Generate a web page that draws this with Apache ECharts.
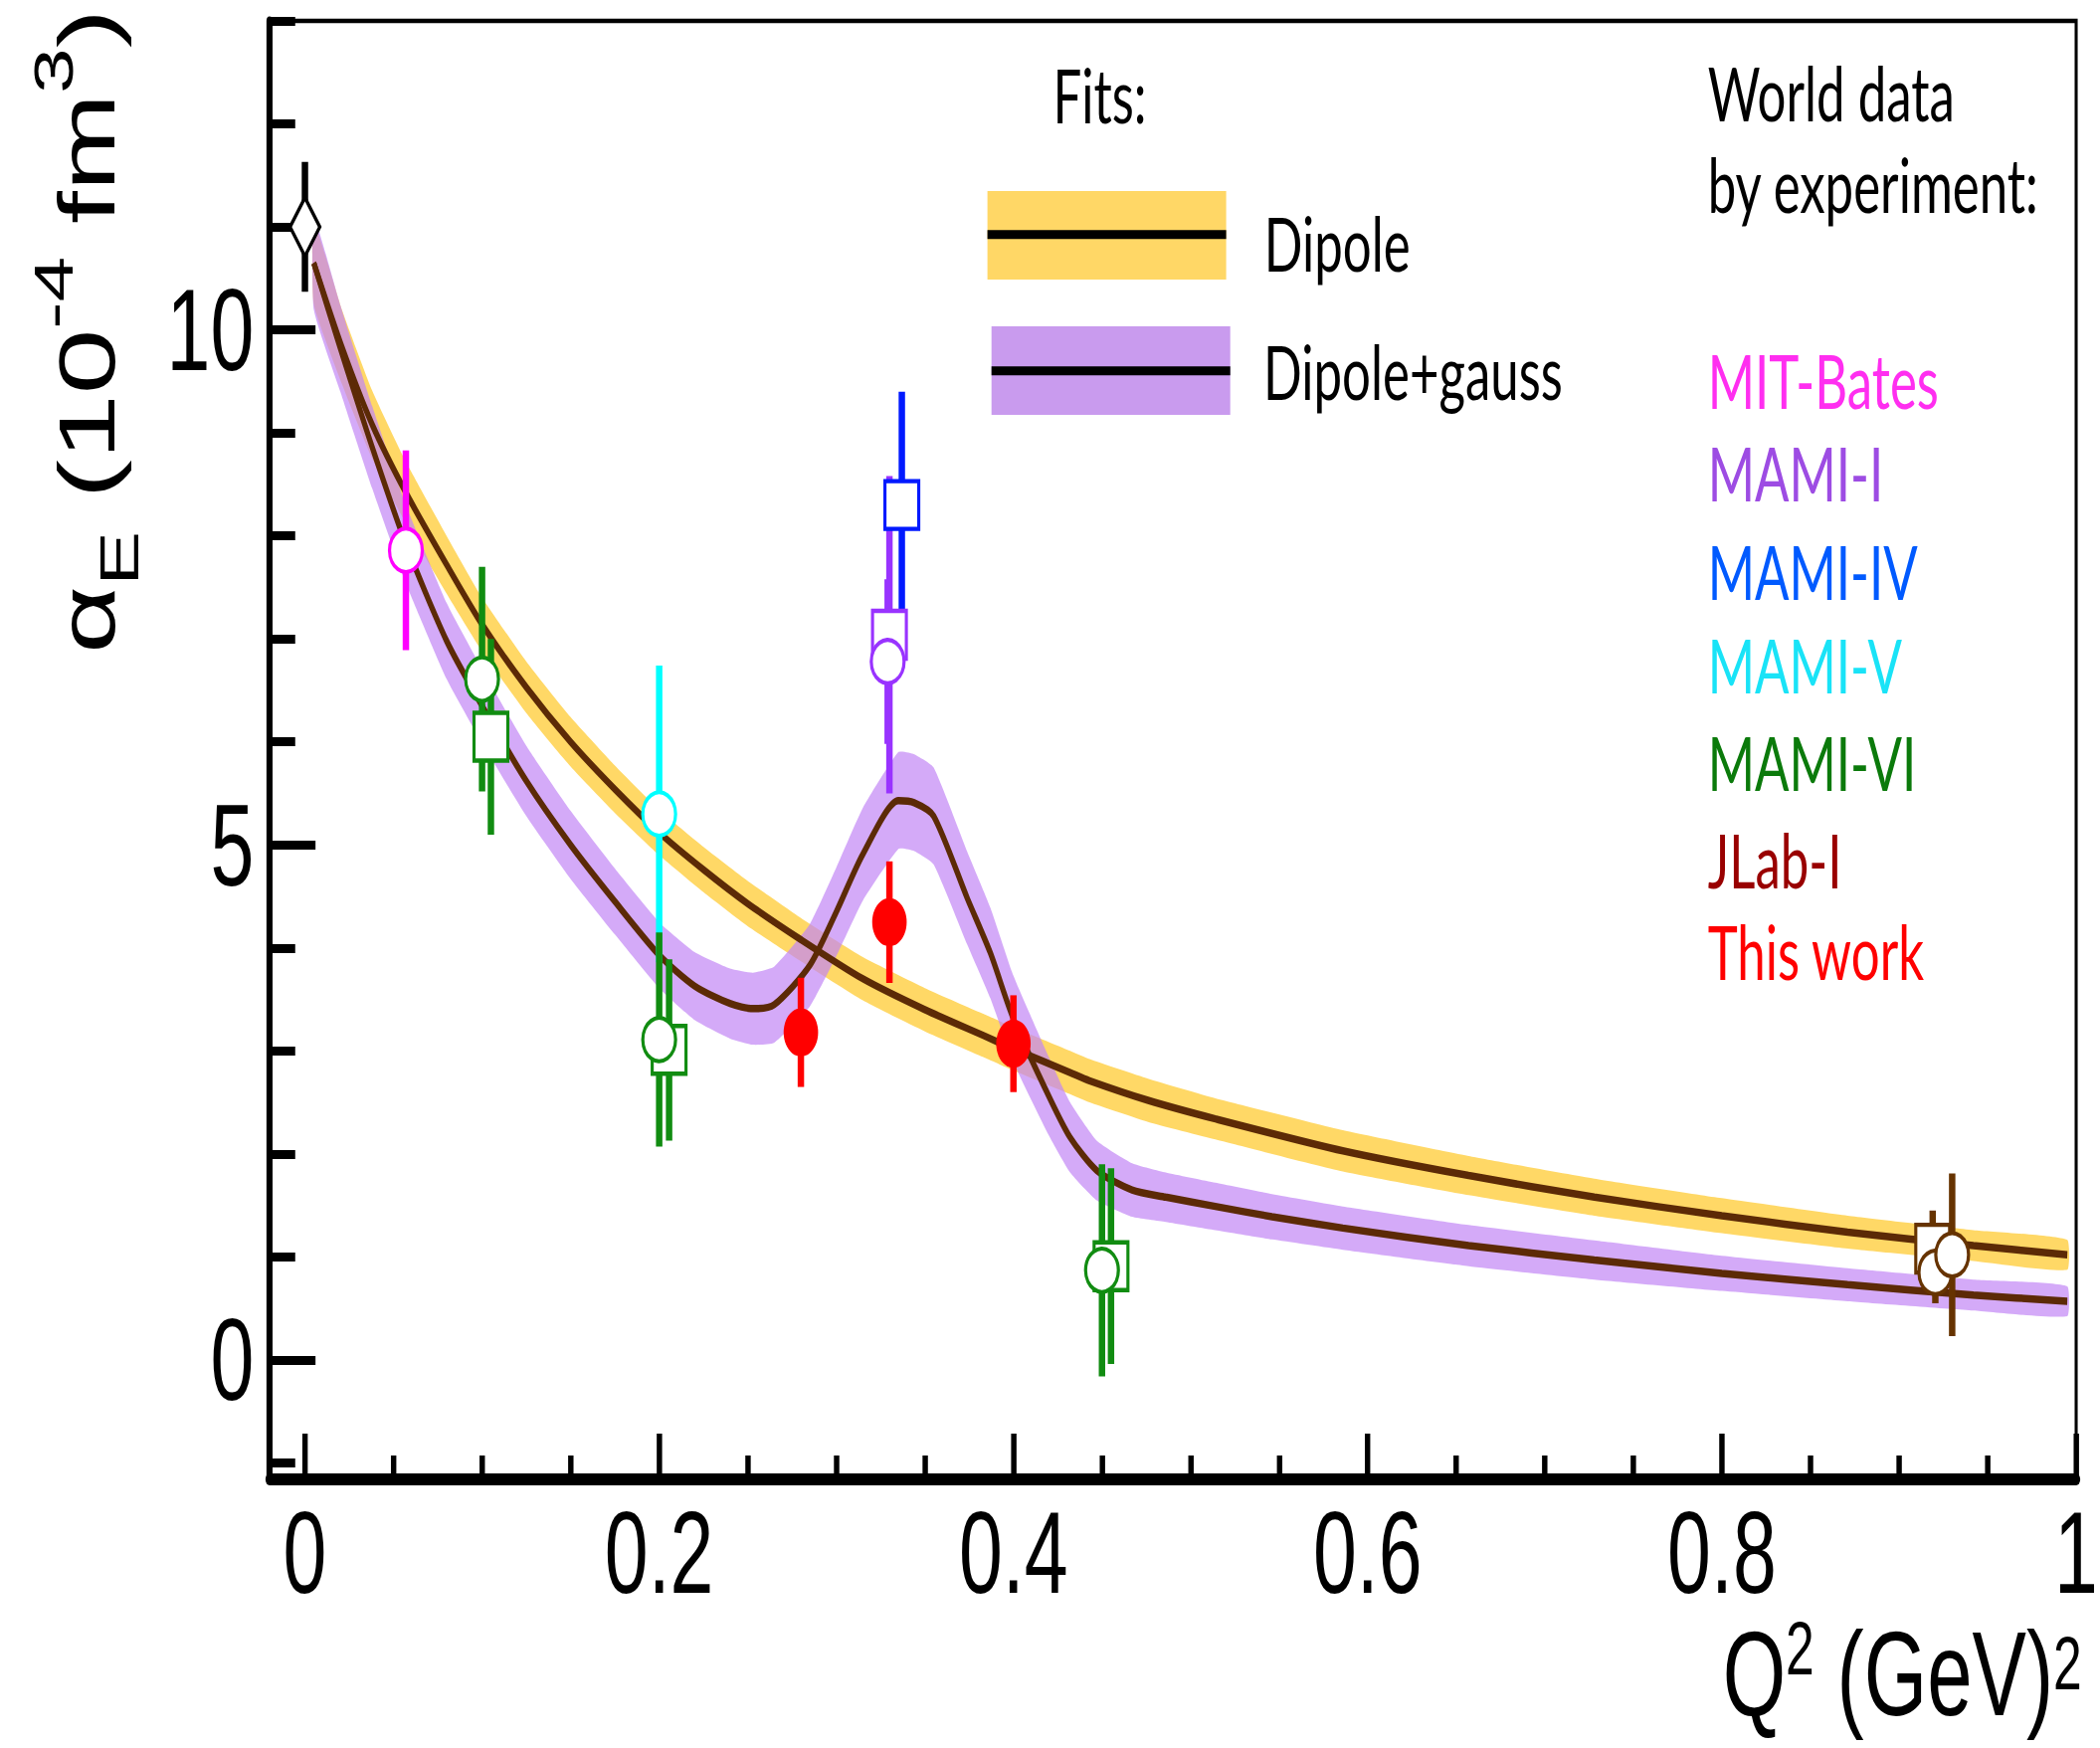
<!DOCTYPE html>
<html>
<head>
<meta charset="utf-8">
<script src="https://cdn.jsdelivr.net/npm/echarts@6/dist/echarts.min.js"></script>
<style>
html,body{margin:0;padding:0;overflow:hidden;width:2111px;height:1757px;background:#fff;}
#chart{width:3105px;height:1757px;transform:scaleX(0.67987);transform-origin:0 0;}
</style>
</head>
<body>
<div id="chart"></div>
<script>
// ---------------- data ----------------
const xMajorTicks = [0, 0.2, 0.4, 0.6, 0.8, 1.0];
const xTickLabels = ['0', '0.2', '0.4', '0.6', '0.8', '1'];
const xMinorTicks = [0.05, 0.1, 0.15, 0.25, 0.3, 0.35, 0.45, 0.5, 0.55, 0.65, 0.7, 0.75, 0.85, 0.9, 0.95];
const yMajorTicks = [0, 5, 10];
const yTickLabels = ['0', '5', '10'];
const yMinorTicks = [-1, 1, 2, 3, 4, 6, 7, 8, 9, 11, 12, 13];

// Dipole fit (centre line and band half-width)
const dipoleQ   = [0.005,0.021,0.038,0.057,0.08,0.1,0.125,0.15,0.175,0.2,0.225,0.25,0.28,0.315,0.35,0.383,0.40,0.432,0.443,0.476,0.514,0.586,0.657,0.728,0.80,0.871,0.942,0.995];
const dipoleA   = [10.65,9.83,9.08,8.42,7.72,7.14,6.53,6.00,5.54,5.12,4.76,4.43,4.08,3.70,3.40,3.15,3.02,2.79,2.71,2.52,2.34,2.03,1.79,1.58,1.40,1.24,1.11,1.02];
const dipoleErr = [0.40,0.36,0.33,0.30,0.28,0.26,0.25,0.24,0.23,0.22,0.22,0.22,0.21,0.21,0.21,0.21,0.21,0.21,0.21,0.21,0.20,0.20,0.19,0.18,0.17,0.16,0.15,0.145];

// Dipole+gauss fit
const gaussQ   = [0.005,0.02,0.038,0.057,0.08,0.1,0.125,0.15,0.175,0.2,0.22,0.24,0.253,0.265,0.285,0.30,0.315,0.335,0.344,0.355,0.374,0.387,0.40,0.42,0.432,0.447,0.467,0.486,0.514,0.546,0.586,0.657,0.728,0.80,0.871,0.942,0.995];
const gaussA   = [10.65,9.82,8.86,7.92,6.98,6.35,5.62,5.00,4.45,3.93,3.63,3.46,3.41,3.45,3.83,4.35,4.91,5.43,5.41,5.28,4.48,3.95,3.31,2.56,2.16,1.84,1.65,1.58,1.49,1.39,1.28,1.11,0.97,0.84,0.73,0.63,0.57];
const gaussErr = [0.45,0.42,0.40,0.38,0.37,0.36,0.34,0.33,0.32,0.32,0.33,0.34,0.35,0.37,0.40,0.43,0.45,0.47,0.47,0.47,0.45,0.44,0.42,0.38,0.34,0.29,0.26,0.24,0.23,0.22,0.21,0.20,0.19,0.17,0.16,0.15,0.145];

// data points: [Q2, alphaE, error]
const rcsPoint      = [[0.000, 11.00, 0.63]];
const mitBates      = [[0.057, 7.86, 0.97]];
const mamiISquares  = [[0.330, 7.04, 1.54]];
const mamiICircles  = [[0.329, 6.78, 0.80]];
const mamiIVSquares = [[0.337, 8.30, 1.10]];
const mamiVCircles  = [[0.200, 5.30, 1.44]];
const mamiVICircles = [[0.100, 6.61, 1.09], [0.200, 3.11, 1.04], [0.450, 0.87, 1.03]];
const mamiVISquares = [[0.105, 6.05, 0.95], [0.2056, 3.01, 0.88], [0.4551, 0.91, 0.95]];
const jlabSquares   = [[0.919, 1.08, 0.37]];
const jlabCircles   = [[0.9205, 0.85, 0.30], [0.930, 1.02, 0.79]];
const thisWork      = [[0.280, 3.18, 0.53], [0.330, 4.25, 0.59], [0.400, 3.07, 0.47]];

const fitNames = ['Dipole', 'Dipole+gauss'];
const expNames = ['MIT-Bates', 'MAMI-I', 'MAMI-IV', 'MAMI-V', 'MAMI-VI', 'JLab-I', 'This work'];
const expLabelColors = ['#ff2ef0', '#9d4ce3', '#005aff', '#19e3f7', '#0b7a0b', '#990000', '#ff0000'];

// ---------------- styles ----------------
const C = {
  rcs: '#000000', bates: '#ff00ff', mamiI: '#9933ff', mamiIV: '#0019ff',
  mamiV: '#00ffff', mamiVI: '#118c11', jlab: '#663300', work: '#ff0000',
  brown: '#5c2a06', yellow: '#ffd866', purpleBand: 'rgba(194,134,245,0.70)',
  legYellow: '#ffd766', legPurple: '#c99bee'
};

function bandSeries(q, a, e, fill, z) {
  return {
    type: 'custom', silent: true, z: z, clip: true,
    data: q.map((v, i) => [v, a[i]]),
    encode: { x: 0, y: 1 },
    renderItem: function (params, api) {
      if (params.dataIndex !== 0) return null;
      const up = [], dn = [];
      for (let i = 0; i < q.length; i++) {
        up.push(api.coord([q[i], a[i] + e[i]]));
        dn.push(api.coord([q[i], a[i] - e[i]]));
      }
      return { type: 'polygon', shape: { points: up.concat(dn.reverse()), smooth: 0.15 },
               style: { fill: fill } };
    }
  };
}
function lineSeries(q, a, z) {
  return {
    type: 'line', silent: true, z: z, showSymbol: false, smooth: 0.25,
    data: q.map((v, i) => [v, a[i]]),
    lineStyle: { color: C.brown, width: 7.5 }
  };
}
function errSeries(data, color) {
  return {
    type: 'custom', silent: true, z: 5, data: data, encode: { x: 0, y: 1 },
    renderItem: function (params, api) {
      const x = api.value(0), y = api.value(1), e = api.value(2);
      const p1 = api.coord([x, y + e]), p2 = api.coord([x, y - e]);
      return { type: 'line', shape: { x1: p1[0], y1: p1[1], x2: p2[0], y2: p2[1] },
               style: { stroke: color, lineWidth: 9.5 } };
    }
  };
}
function markSeries(data, symbol, size, color, filled) {
  return {
    type: 'scatter', silent: true, z: 6, data: data, encode: { x: 0, y: 1 },
    symbol: symbol, symbolSize: size,
    itemStyle: filled ? { color: color, opacity: 1 } :
      { color: '#ffffff', borderColor: color, borderWidth: 4.5, opacity: 1 }
  };
}
const circ = [48.5, 43.5], sq = [50, 48];

const LS = 'Liberation Sans, Arial, sans-serif';
const tickFont = { fontSize: 116, fontFamily: LS, color: '#000' };
const txt = (t, x, y, color, size) => ({
  type: 'text', x: x, y: y, silent: true,
  style: { text: t, fill: color, fontSize: size, fontFamily: 'Lato, Open Sans, sans-serif',
           align: 'left', verticalAlign: 'middle' }
});

const expLabelY = [382.5, 475.8, 574, 668.5, 766.4, 864.8, 956.5];

const option = {
  animation: false,
  backgroundColor: '#ffffff',
  grid: { left: 398.5, right: 21, top: 21, bottom: 270, show: true,
          borderColor: '#000', borderWidth: 4.5, backgroundColor: 'transparent' },
  xAxis: [
    { type: 'value', min: -0.02, max: 1.0, position: 'bottom',
      axisLine: { show: true, onZero: false, lineStyle: { color: '#000', width: 12 } },
      axisTick: { show: true, inside: true, length: 46, customValues: xMajorTicks,
                  lineStyle: { color: '#000', width: 8 } },
      axisLabel: Object.assign({ show: true, margin: 29, lineHeight: 90, customValues: xMajorTicks,
                  formatter: v => xTickLabels[xMajorTicks.findIndex(t => Math.abs(t - v) < 1e-9)] }, tickFont),
      splitLine: { show: false } },
    { type: 'value', min: -0.02, max: 1.0, position: 'bottom',
      axisLine: { show: false, onZero: false },
      axisTick: { show: true, inside: true, length: 24, customValues: xMinorTicks,
                  lineStyle: { color: '#000', width: 8 } },
      axisLabel: { show: false }, splitLine: { show: false } }
  ],
  yAxis: [
    { type: 'value', min: -1.16, max: 13, position: 'left',
      axisLine: { show: true, onZero: false, lineStyle: { color: '#000', width: 9 } },
      axisTick: { show: true, inside: true, length: 68, customValues: yMajorTicks,
                  lineStyle: { color: '#000', width: 9 } },
      axisLabel: Object.assign({ show: true, margin: 23, customValues: yMajorTicks,
                  formatter: v => yTickLabels[yMajorTicks.indexOf(v)] }, tickFont),
      splitLine: { show: false } },
    { type: 'value', min: -1.16, max: 13, position: 'left',
      axisLine: { show: false, onZero: false },
      axisTick: { show: true, inside: true, length: 38, customValues: yMinorTicks,
                  lineStyle: { color: '#000', width: 9 } },
      axisLabel: { show: false }, splitLine: { show: false } }
  ],
  series: [
    bandSeries(dipoleQ, dipoleA, dipoleErr, C.yellow, 1),
    bandSeries(gaussQ, gaussA, gaussErr, C.purpleBand, 2),
    lineSeries(dipoleQ, dipoleA, 3),
    lineSeries(gaussQ, gaussA, 3),
    errSeries(rcsPoint, C.rcs),
    errSeries(mitBates, C.bates),
    errSeries(mamiIVSquares, C.mamiIV),
    errSeries(mamiICircles, C.mamiI),
    errSeries(mamiISquares, C.mamiI),
    errSeries(mamiVCircles, C.mamiV),
    errSeries(mamiVISquares, C.mamiVI),
    errSeries(mamiVICircles, C.mamiVI),
    errSeries(jlabSquares, C.jlab),
    errSeries(jlabCircles, C.jlab),
    errSeries(thisWork, C.work),
    markSeries(rcsPoint, 'diamond', [44, 59], C.rcs, false),
    markSeries(mamiIVSquares, 'rect', sq, C.mamiIV, false),
    markSeries(mamiISquares, 'rect', sq, C.mamiI, false),
    markSeries(mamiVISquares, 'rect', sq, C.mamiVI, false),
    markSeries(jlabSquares, 'rect', sq, C.jlab, false),
    markSeries(mitBates, 'circle', circ, C.bates, false),
    markSeries(mamiICircles, 'circle', circ, C.mamiI, false),
    markSeries(mamiVCircles, 'circle', circ, C.mamiV, false),
    markSeries(mamiVICircles, 'circle', circ, C.mamiVI, false),
    markSeries(jlabCircles, 'circle', circ, C.jlab, false),
    markSeries(thisWork, 'circle', [51, 48.5], C.work, true)
  ],
  graphic: { elements: [
    // fit legend
    txt('Fits:', 1557, 95, '#000', 75),
    { type: 'rect', silent: true, shape: { x: 1460, y: 192, width: 353, height: 89 }, style: { fill: C.legYellow } },
    { type: 'line', silent: true, shape: { x1: 1460, y1: 235.7, x2: 1813, y2: 235.7 }, style: { stroke: '#000', lineWidth: 9 } },
    { type: 'rect', silent: true, shape: { x: 1466, y: 328, width: 353, height: 89 }, style: { fill: C.legPurple } },
    { type: 'line', silent: true, shape: { x1: 1466, y1: 372.8, x2: 1819, y2: 372.8 }, style: { stroke: '#000', lineWidth: 9 } },
    txt(fitNames[0], 1869, 244.4, '#000', 75),
    txt(fitNames[1], 1868, 373.7, '#000', 75),
    // experiment legend
    txt('World data', 2525, 93, '#000', 75),
    txt('by experiment:', 2525, 185, '#000', 75)
  ].concat(expNames.map((n, i) => txt(n, 2525, expLabelY[i], expLabelColors[i], 75))).concat([
    // axis titles
    { type: 'text', silent: true, x: 128, y: 333, rotation: Math.PI / 2,
      style: { text: '{m|α}{s|E}{m| (10}{p|-4}{m| fm}{p|3}{m|)}',
               align: 'center', verticalAlign: 'middle', fill: '#000',
               fontFamily: LS, fontSize: 116,
               rich: {
                 m: { fontSize: 118, lineHeight: 180, fontFamily: LS, fill: '#000' },
                 s: { fontSize: 82, lineHeight: 82, verticalAlign: 'bottom', fontFamily: LS, fill: '#000' },
                 p: { fontSize: 82, lineHeight: 82, verticalAlign: 'top', fontFamily: LS, fill: '#000' }
               } } },
    { type: 'text', silent: true, x: 3036, y: 1682,
      style: { text: '{m|Q}{p|2}{m| (GeV)}',
               align: 'right', verticalAlign: 'middle', fill: '#000',
               fontFamily: LS, fontSize: 120,
               rich: {
                 m: { fontSize: 120, lineHeight: 126, fontFamily: LS, fill: '#000' },
                 p: { fontSize: 76, lineHeight: 104, verticalAlign: 'top', fontFamily: LS, fill: '#000' }
               } } },
    { type: 'text', silent: true, x: 3078, y: 1672,
      style: { text: '2', align: 'right', verticalAlign: 'middle', fill: '#000',
               fontFamily: LS, fontSize: 76 } }
  ]) }
};

const chart = echarts.init(document.getElementById('chart'), null, { renderer: 'svg', width: 3105, height: 1757 });
chart.setOption(option);
</script>
</body>
</html>
